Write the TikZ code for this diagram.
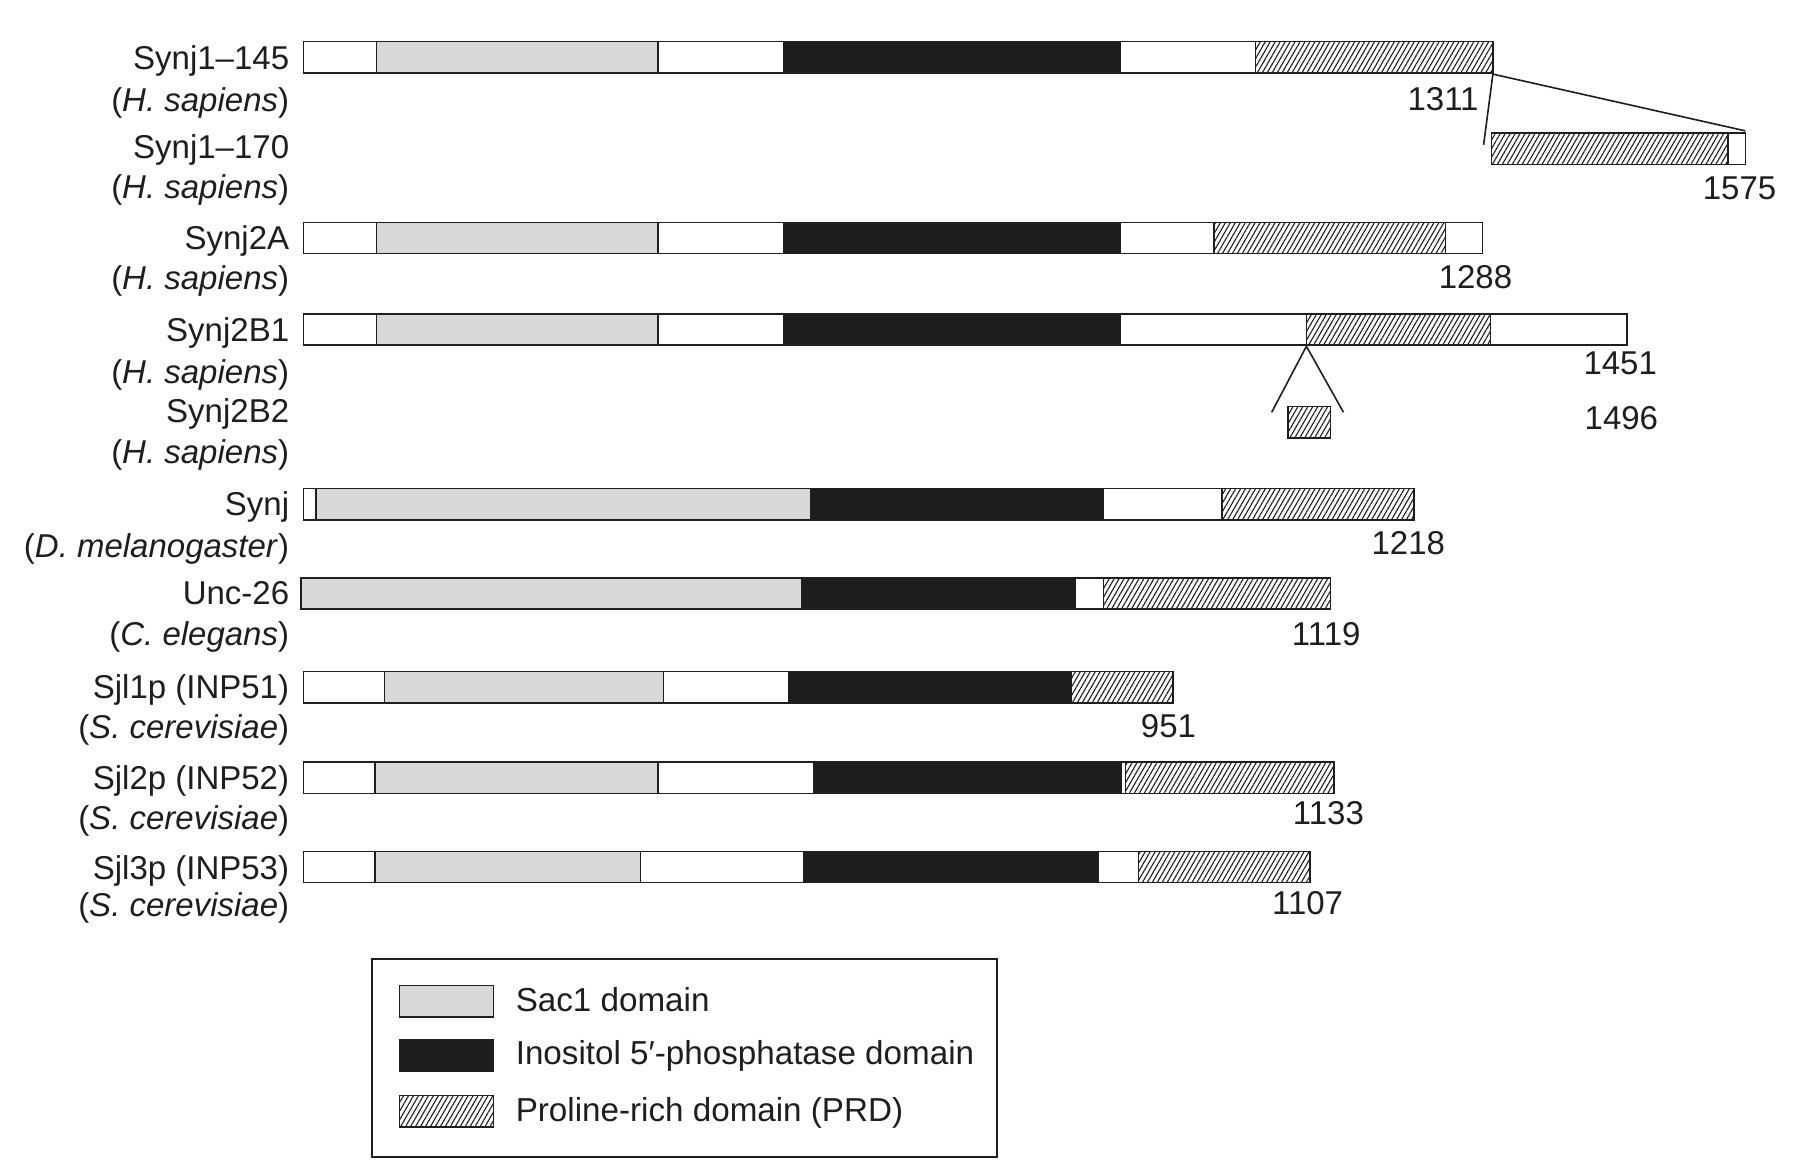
\documentclass[tikz,border=0pt]{standalone}
\usepackage{fontspec}
\setmainfont{Liberation Sans}
\usetikzlibrary{patterns.meta}
\definecolor{ink}{HTML}{1E1E1E}
\definecolor{sacgray}{HTML}{D7D8DA}
\newcommand\seg[4]{\path[#4] (#1,#3) rectangle (#2,#3+27);}
\begin{document}
\begin{tikzpicture}[x=0.5791pt,y=-0.5791pt,
 box/.style={draw=ink,line width=0.75pt,fill=white},
 sac/.style={box,fill=sacgray},
 ino/.style={box,fill=ink},
 prd/.style={draw=ink,line width=0.75pt,pattern={Lines[angle=60,distance=2.15pt,line width=0.55pt]},pattern color=ink},
 lbl/.style={anchor=base east,inner sep=0pt,text=ink,font=\fontsize{16.5}{20}\selectfont},
 num/.style={lbl},
 leg/.style={anchor=base west,inner sep=0pt,text=ink,font=\fontsize{16.6}{20}\selectfont},
 conn/.style={draw=ink,line width=0.8pt}]
\fill[white] (0,0) rectangle (1568,1015);
\path[use as bounding box] (0,0) rectangle (1568,1015);
% Synj1-145
\seg{262}{325}{36}{box}\seg{325}{568}{36}{sac}\seg{568}{677}{36}{box}\seg{677}{967}{36}{ino}\seg{967}{1084}{36}{box}\seg{1084}{1289}{36}{prd}
% Synj1-170
\seg{1288}{1492}{115}{prd}\seg{1492}{1507}{115}{box}
% Synj2A
\seg{262}{325}{192}{box}\seg{325}{568}{192}{sac}\seg{568}{677}{192}{box}\seg{677}{967}{192}{ino}\seg{967}{1048}{192}{box}\seg{1048}{1248}{192}{prd}\seg{1248}{1280}{192}{box}
% Synj2B1
\seg{262}{325}{271}{box}\seg{325}{568}{271}{sac}\seg{568}{677}{271}{box}\seg{677}{967}{271}{ino}\seg{967}{1128}{271}{box}\seg{1128}{1287}{271}{prd}\seg{1287}{1405}{271}{box}
% Synj2B2
\seg{1112}{1149}{351}{prd}
% Synj
\seg{262}{273}{422}{box}\seg{273}{700}{422}{sac}\seg{700}{953}{422}{ino}\seg{953}{1055}{422}{box}\seg{1055}{1221}{422}{prd}
% Unc-26
\seg{260}{692}{499}{sac}\seg{692}{928}{499}{ino}\seg{928}{953}{499}{box}\seg{953}{1149}{499}{prd}
% Sjl1p
\seg{262}{332}{580}{box}\seg{332}{573}{580}{sac}\seg{573}{681}{580}{box}\seg{681}{925}{580}{ino}\seg{925}{1013}{580}{prd}
% Sjl2p
\seg{262}{324}{658}{box}\seg{324}{568}{658}{sac}\seg{568}{703}{658}{box}\seg{703}{968}{658}{ino}\seg{968}{972}{658}{box}\seg{972}{1152}{658}{prd}
% Sjl3p
\seg{262}{324}{735}{box}\seg{324}{553}{735}{sac}\seg{553}{694}{735}{box}\seg{694}{948}{735}{ino}\seg{948}{983}{735}{box}\seg{983}{1131}{735}{prd}
% connectors
\coordinate (s145end) at (1289,64);
\coordinate (s170l) at (1281,125);
\coordinate (s170r) at (1507,113);
\draw[conn] (s170l) -- (s145end) -- (s170r);
\coordinate (b1ins) at (1128,299);
\coordinate (b2l) at (1098,356);
\coordinate (b2r) at (1160,356);
\draw[conn] (b2l) -- (b1ins) -- (b2r);
% names
\node[lbl] (n1) at (250,60) {Synj1–145};
\node[lbl] (sp1) at (250,96) {(\textit{H. sapiens})};
\node[lbl] (n2) at (250,137) {Synj1–170};
\node[lbl] (sp2) at (250,171) {(\textit{H. sapiens})};
\node[lbl] (n3) at (250,215) {Synj2A};
\node[lbl] (sp3) at (250,250) {(\textit{H. sapiens})};
\node[lbl] (n4) at (250,295) {Synj2B1};
\node[lbl] (sp4) at (250,331) {(\textit{H. sapiens})};
\node[lbl] (n5) at (250,365) {Synj2B2};
\node[lbl] (sp5) at (250,400) {(\textit{H. sapiens})};
\node[lbl] (n6) at (250,445) {Synj};
\node[lbl] (sp6) at (250,481) {(\textit{D. melanogaster})};
\node[lbl] (n7) at (250,522) {Unc-26};
\node[lbl] (sp7) at (250,557) {(\textit{C. elegans})};
\node[lbl] (n8) at (250,603) {Sjl1p (INP51)};
\node[lbl] (sp8) at (250,638) {(\textit{S. cerevisiae})};
\node[lbl] (n9) at (250,682) {Sjl2p (INP52)};
\node[lbl] (sp9) at (250,716) {(\textit{S. cerevisiae})};
\node[lbl] (n10) at (250,759) {Sjl3p (INP53)};
\node[lbl] (sp10) at (250,791) {(\textit{S. cerevisiae})};
% lengths
\node[num] (m1) at (1277,95) {1311};
\node[num] (m2) at (1534,172) {1575};
\node[num] (m3) at (1306,249) {1288};
\node[num] (m4) at (1431,323) {1451};
\node[num] (m5) at (1432,371) {1496};
\node[num] (m6) at (1248,479) {1218};
\node[num] (m7) at (1175,557) {1119};
\node[num] (m8) at (1033,637) {951};
\node[num] (m9) at (1178,712) {1133};
\node[num] (m10) at (1160,790) {1107};
% legend
\draw[ink,line width=0.8pt] (321,828) rectangle (861,999);
\seg{345}{426}{851}{sac}
\seg{345}{426}{898}{ino}
\seg{345}{426}{946}{prd}
\node[leg] (l1) at (445,873) {Sac1 domain};
\node[leg] (l2) at (445,919) {Inositol 5′-phosphatase domain};
\node[leg] (l3) at (445,968) {Proline-rich domain (PRD)};
\end{tikzpicture}
\end{document}
